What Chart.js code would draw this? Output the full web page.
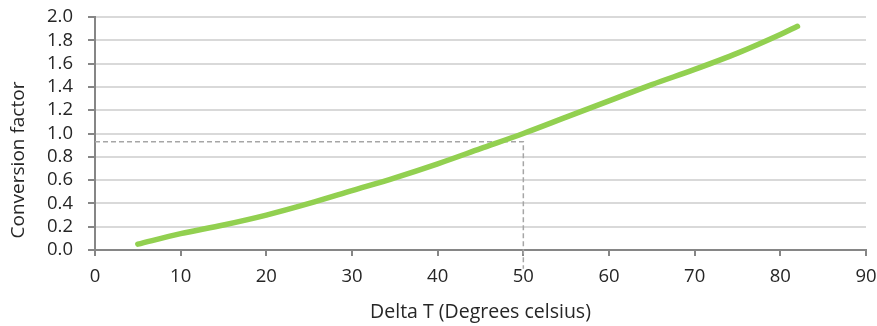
<!DOCTYPE html>
<html>
<head>
<meta charset="utf-8">
<script src="https://cdn.jsdelivr.net/npm/chart.js@4/dist/chart.umd.min.js"></script>
<style>
  html, body { margin: 0; padding: 0; background: #ffffff; }
  #wrap { width: 877px; height: 326px; position: relative; }
</style>
</head>
<body>
<div id="wrap"><canvas id="chart"></canvas></div>
<script>
// Temperature difference (°C) and the matching conversion factor
const deltaT = [5, 10, 15, 20, 25, 30, 35, 40, 45, 50, 55, 60, 65, 70, 75, 80, 82];
const factor = [0.05, 0.14, 0.215, 0.30, 0.40, 0.51, 0.62, 0.74, 0.87, 1.00, 1.14, 1.28, 1.42, 1.55, 1.69, 1.85, 1.92];

// Reading guide: from the y axis across to ΔT = 50, then down past the x axis
const guideX = [0, 50, 50];
const guideY = [0.93, 0.93, -0.16];

// Axis ticks
const xTicks = [0, 10, 20, 30, 40, 50, 60, 70, 80, 90];
const yTicks = [0, 0.2, 0.4, 0.6, 0.8, 1.0, 1.2, 1.4, 1.6, 1.8, 2.0];

const FONT = "'Open Sans', 'Noto Sans', sans-serif";
const TEXT = '#262626';
const Y_TITLE = 'Conversion factor';

const curve = deltaT.map((x, i) => ({ x, y: factor[i] }));
const guide = guideX.map((x, i) => ({ x, y: guideY[i] }));

// Rotated y-axis title, placed beside the tick labels
const yTitlePlugin = {
  id: 'yTitle',
  afterDraw(chart) {
    const { ctx } = chart;
    ctx.save();
    ctx.translate(19, 160);
    ctx.rotate(-Math.PI / 2);
    ctx.fillStyle = TEXT;
    ctx.font = `19px ${FONT}`;
    ctx.textAlign = 'center';
    ctx.textBaseline = 'middle';
    ctx.fillText(Y_TITLE, 0, 0);
    ctx.restore();
  }
};

new Chart(document.getElementById('chart'), {
  type: 'scatter',
  data: {
    datasets: [
      {
        data: curve,
        showLine: true,
        borderColor: '#92D050',
        borderWidth: 5.5,
        borderCapStyle: 'round',
        borderJoinStyle: 'round',
        cubicInterpolationMode: 'monotone',
        pointRadius: 0
      },
      {
        data: guide,
        showLine: true,
        borderColor: '#a6a6a6',
        borderWidth: 1.5,
        borderDash: [5, 3],
        tension: 0,
        pointRadius: 0,
        clip: false
      }
    ]
  },
  plugins: [yTitlePlugin],
  options: {
    responsive: true,
    maintainAspectRatio: false,
    animation: false,
    events: [],
    layout: { padding: { top: 17, right: 11, left: 0, bottom: 0 } },
    plugins: { legend: { display: false }, tooltip: { enabled: false } },
    scales: {
      x: {
        type: 'linear',
        min: 0,
        max: 90,
        afterBuildTicks: (s) => { s.ticks = xTicks.map(v => ({ value: v })); },
        afterFit: (s) => { s.height = 76; s.paddingLeft = 0; s.paddingRight = 0; },
        border: { color: '#868686', width: 2 },
        grid: { drawOnChartArea: false, drawTicks: true, tickLength: 6, tickColor: '#868686', lineWidth: 2 },
        ticks: { color: TEXT, font: { family: FONT, size: 18.5 }, padding: 10, maxRotation: 0, autoSkip: false },
        title: {
          display: true,
          text: 'Delta T (Degrees celsius)',
          color: TEXT,
          font: { family: FONT, size: 19.5 },
          padding: { top: 4, bottom: 2 }
        }
      },
      y: {
        type: 'linear',
        min: 0,
        max: 2,
        afterBuildTicks: (s) => { s.ticks = yTicks.map(v => ({ value: v })); },
        afterFit: (s) => { s.width = 95; s.paddingTop = 0; s.paddingBottom = 0; },
        border: { color: '#868686', width: 2 },
        grid: {
          color: '#d9d9d9',
          lineWidth: 2,
          drawTicks: true,
          tickLength: 7,
          tickColor: '#868686'
        },
        ticks: {
          color: TEXT,
          font: { family: FONT, size: 18.5 },
          padding: 15,
          autoSkip: false,
          callback: (v) => Number(v).toFixed(1)
        }
      }
    }
  }
});
</script>
</body>
</html>
